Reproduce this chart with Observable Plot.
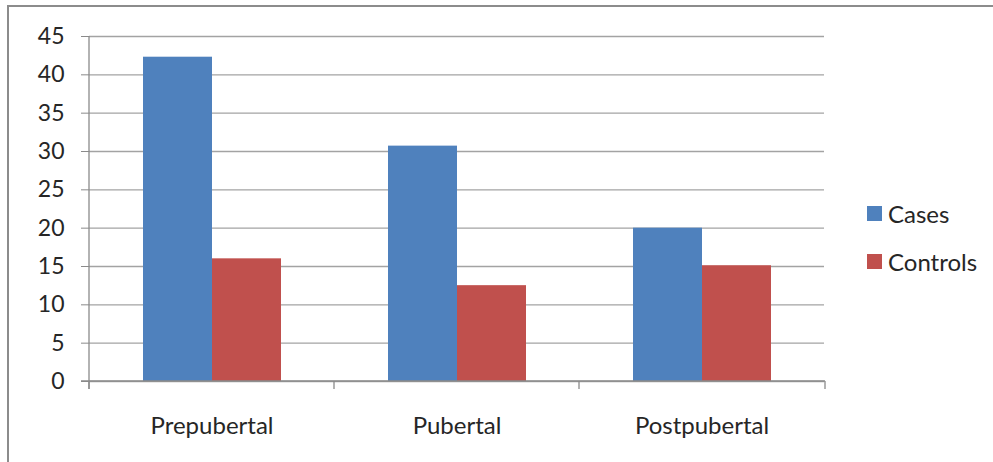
<!DOCTYPE html>
<html><head><meta charset="utf-8">
<script src="https://cdn.jsdelivr.net/npm/d3@7"></script>
<script src="https://cdn.jsdelivr.net/npm/@observablehq/plot@0.6"></script>
<style>
html,body{margin:0;padding:0;background:#fff;}
#wrap{position:relative;width:993px;height:462px;overflow:hidden;font-family:Lato,Carlito,sans-serif;}
#frame{position:absolute;left:7px;top:5px;width:1200px;height:600px;border-left:2px solid #8c8c8c;border-top:2px solid #8c8c8c;}
#chart{position:absolute;left:0;top:0;}
#legend{position:absolute;left:867px;top:201px;color:#262626;font-size:24px;}
.item{display:flex;align-items:center;height:24px;margin-bottom:24px;white-space:nowrap;}
.sw{width:15px;height:15px;margin-right:6px;flex:none;}
</style></head>
<body><div id="wrap"><div id="frame"></div><div id="chart"></div><div id="legend"></div></div>
<script>
const groups = ["Prepubertal", "Pubertal", "Postpubertal"];
const series = ["Cases", "Controls"];
const cases = [42.3, 30.7, 20.0];
const controls = [16.0, 12.5, 15.1];
const colors = ["#4F81BD", "#C0504D"];
const yTicks = [0, 5, 10, 15, 20, 25, 30, 35, 40, 45];

const values = {Cases: cases, Controls: controls};
const data = [];
groups.forEach((g, i) => series.forEach(s => data.push({group: g, series: s, value: values[s][i]})));

const gridColor = "#a3a3a3";
const axisColor = "#8a8a8a";
const textColor = "#262626";

const plot = Plot.plot({
  width: 993,
  height: 462,
  marginLeft: 88,
  marginRight: 168,
  marginTop: 36,
  marginBottom: 81,
  style: {fontFamily: "Lato, Carlito, sans-serif", fontSize: "23px", background: "transparent", color: textColor},
  fx: {domain: groups, padding: 0, label: null, axis: null},
  x: {domain: series, paddingInner: 0, paddingOuter: 0.755, axis: null},
  y: {domain: [0, 45], ticks: yTicks, axis: null},
  color: {domain: series, range: colors},
  marks: [
    Plot.gridY(yTicks, {stroke: gridColor, strokeOpacity: 1, strokeWidth: 1.3}),
    Plot.barY(data, {fx: "group", x: "series", y: "value", fill: "series", inset: 0}),
    Plot.axisY({ticks: yTicks, tickSize: 8, tickPadding: 17, stroke: axisColor, fill: textColor, label: null, fontSize: 23}),
    Plot.axisFx({anchor: "bottom", tickSize: 0, tickPadding: 35, label: null, fontSize: 24, fill: textColor})
  ]
});
document.getElementById("chart").appendChild(plot);

// axis lines from scales
const fx = plot.scale("fx");
const y = plot.scale("y");
const svg = d3.select(plot);
const y0 = y.apply(0), yTop = y.apply(45);
const xs = groups.map(g => fx.apply(g)).concat([fx.range[1]]);
const g = svg.append("g").attr("stroke", axisColor).attr("stroke-width", 1.3);
g.append("line").attr("x1", xs[0]).attr("x2", xs[0]).attr("y1", yTop).attr("y2", y0 + 8);
g.append("line").attr("x1", xs[0] - 8).attr("x2", xs[xs.length - 1]).attr("y1", y0).attr("y2", y0);
xs.forEach(x => g.append("line").attr("x1", x).attr("x2", x).attr("y1", y0).attr("y2", y0 + 8));

// legend
const legend = d3.select("#legend");
series.forEach((s, i) => {
  const it = legend.append("div").attr("class", "item");
  it.append("div").attr("class", "sw").style("background", colors[i]);
  it.append("span").text(s);
});
</script>
</body></html>
